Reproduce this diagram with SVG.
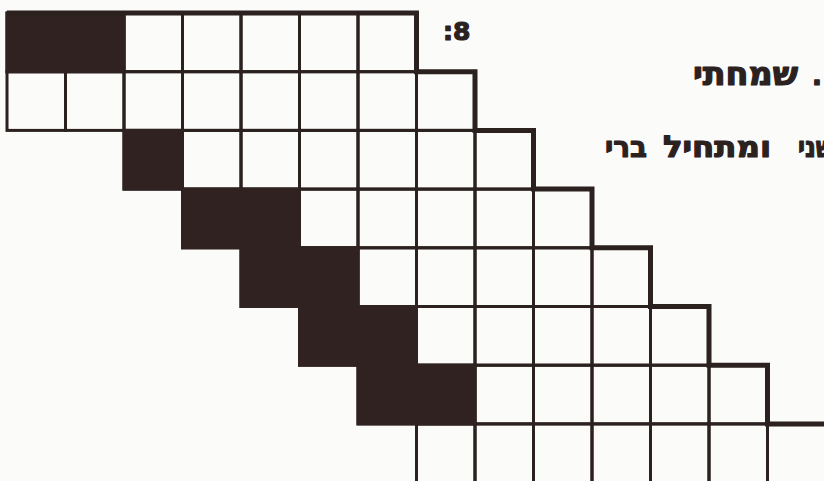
<svg xmlns="http://www.w3.org/2000/svg" width="824" height="481" viewBox="0 0 824 481">
  <style>
    .cell { fill: none; stroke: #2b211f; stroke-width: 3; }
    .dark { fill: #2f2220; }
    .outline { fill: none; stroke: #2b211f; stroke-width: 5; stroke-linejoin: miter; }
    .t { font-family: "DejaVu Sans", "Liberation Sans", sans-serif; font-weight: bold; fill: #2b211f; stroke: #2b211f; stroke-width: 1.2; stroke-linejoin: round; }
  </style>
  <rect x="0" y="0" width="824" height="481" fill="#fbfbfa"/>

  <g id="grid">
    <g id="row0">
      <rect class="cell" x="7" y="13" width="58.5" height="58.7"/>
      <rect class="cell" x="65.5" y="13" width="58.5" height="58.7"/>
      <rect class="cell" x="124" y="13" width="58.5" height="58.7"/>
      <rect class="cell" x="182.5" y="13" width="58.5" height="58.7"/>
      <rect class="cell" x="241" y="13" width="58.5" height="58.7"/>
      <rect class="cell" x="299.5" y="13" width="58.5" height="58.7"/>
      <rect class="cell" x="358" y="13" width="58.5" height="58.7"/>
    </g>
    <g id="row1">
      <rect class="cell" x="7" y="71.7" width="58.5" height="58.7"/>
      <rect class="cell" x="65.5" y="71.7" width="58.5" height="58.7"/>
      <rect class="cell" x="124" y="71.7" width="58.5" height="58.7"/>
      <rect class="cell" x="182.5" y="71.7" width="58.5" height="58.7"/>
      <rect class="cell" x="241" y="71.7" width="58.5" height="58.7"/>
      <rect class="cell" x="299.5" y="71.7" width="58.5" height="58.7"/>
      <rect class="cell" x="358" y="71.7" width="58.5" height="58.7"/>
      <rect class="cell" x="416.5" y="71.7" width="58.5" height="58.7"/>
    </g>
    <g id="row2">
      <rect class="cell" x="124" y="130.4" width="58.5" height="58.7"/>
      <rect class="cell" x="182.5" y="130.4" width="58.5" height="58.7"/>
      <rect class="cell" x="241" y="130.4" width="58.5" height="58.7"/>
      <rect class="cell" x="299.5" y="130.4" width="58.5" height="58.7"/>
      <rect class="cell" x="358" y="130.4" width="58.5" height="58.7"/>
      <rect class="cell" x="416.5" y="130.4" width="58.5" height="58.7"/>
      <rect class="cell" x="475" y="130.4" width="58.5" height="58.7"/>
    </g>
    <g id="row3">
      <rect class="cell" x="182.5" y="189.1" width="58.5" height="58.7"/>
      <rect class="cell" x="241" y="189.1" width="58.5" height="58.7"/>
      <rect class="cell" x="299.5" y="189.1" width="58.5" height="58.7"/>
      <rect class="cell" x="358" y="189.1" width="58.5" height="58.7"/>
      <rect class="cell" x="416.5" y="189.1" width="58.5" height="58.7"/>
      <rect class="cell" x="475" y="189.1" width="58.5" height="58.7"/>
      <rect class="cell" x="533.5" y="189.1" width="58.5" height="58.7"/>
    </g>
    <g id="row4">
      <rect class="cell" x="241" y="247.8" width="58.5" height="58.7"/>
      <rect class="cell" x="299.5" y="247.8" width="58.5" height="58.7"/>
      <rect class="cell" x="358" y="247.8" width="58.5" height="58.7"/>
      <rect class="cell" x="416.5" y="247.8" width="58.5" height="58.7"/>
      <rect class="cell" x="475" y="247.8" width="58.5" height="58.7"/>
      <rect class="cell" x="533.5" y="247.8" width="58.5" height="58.7"/>
      <rect class="cell" x="592" y="247.8" width="58.5" height="58.7"/>
    </g>
    <g id="row5">
      <rect class="cell" x="299.5" y="306.5" width="58.5" height="58.7"/>
      <rect class="cell" x="358" y="306.5" width="58.5" height="58.7"/>
      <rect class="cell" x="416.5" y="306.5" width="58.5" height="58.7"/>
      <rect class="cell" x="475" y="306.5" width="58.5" height="58.7"/>
      <rect class="cell" x="533.5" y="306.5" width="58.5" height="58.7"/>
      <rect class="cell" x="592" y="306.5" width="58.5" height="58.7"/>
      <rect class="cell" x="650.5" y="306.5" width="58.5" height="58.7"/>
    </g>
    <g id="row6">
      <rect class="cell" x="358" y="365.2" width="58.5" height="58.7"/>
      <rect class="cell" x="416.5" y="365.2" width="58.5" height="58.7"/>
      <rect class="cell" x="475" y="365.2" width="58.5" height="58.7"/>
      <rect class="cell" x="533.5" y="365.2" width="58.5" height="58.7"/>
      <rect class="cell" x="592" y="365.2" width="58.5" height="58.7"/>
      <rect class="cell" x="650.5" y="365.2" width="58.5" height="58.7"/>
      <rect class="cell" x="709" y="365.2" width="58.5" height="58.7"/>
    </g>
    <g id="row7">
      <rect class="cell" x="416.5" y="423.9" width="58.5" height="58.7"/>
      <rect class="cell" x="475" y="423.9" width="58.5" height="58.7"/>
      <rect class="cell" x="533.5" y="423.9" width="58.5" height="58.7"/>
      <rect class="cell" x="592" y="423.9" width="58.5" height="58.7"/>
      <rect class="cell" x="650.5" y="423.9" width="58.5" height="58.7"/>
      <rect class="cell" x="709" y="423.9" width="58.5" height="58.7"/>
      <rect class="cell" x="767.5" y="423.9" width="58.5" height="58.7"/>
    </g>
  </g>

  <g id="shaded">
    <rect class="dark" x="5.5" y="11.5" width="120" height="61.7"/>
    <rect class="dark" x="122.5" y="128.9" width="61.5" height="61.7"/>
    <rect class="dark" x="181" y="187.6" width="120" height="61.7"/>
    <rect class="dark" x="239.5" y="246.3" width="120" height="61.7"/>
    <rect class="dark" x="298" y="305" width="120" height="61.7"/>
    <rect class="dark" x="356.5" y="363.7" width="120" height="61.7"/>
  </g>

  <g id="outline">
    <path class="outline" d="M7,13 H416.5 V71.7 H475 V130.4 H533.5 V189.1 H592 V247.8 H650.5 V306.5 H709 V365.2 H767.5 V423.9 H830"/>
  </g>

  <g id="labels">
    <text class="t" x="443" y="40" font-size="25">:8</text>
    <text class="t" x="693" y="85" font-size="32" textLength="105" lengthAdjust="spacingAndGlyphs">שמחתי</text>
    <text class="t" x="812" y="85" font-size="26">.</text>
    <text class="t" x="605" y="157" font-size="30" textLength="42" lengthAdjust="spacingAndGlyphs">ברי</text>
    <text class="t" x="663" y="157" font-size="30" textLength="108" lengthAdjust="spacingAndGlyphs">ומתחיל</text>
    <text class="t" x="798" y="157" font-size="30" textLength="36" lengthAdjust="spacingAndGlyphs">שני</text>
  </g>
</svg>
